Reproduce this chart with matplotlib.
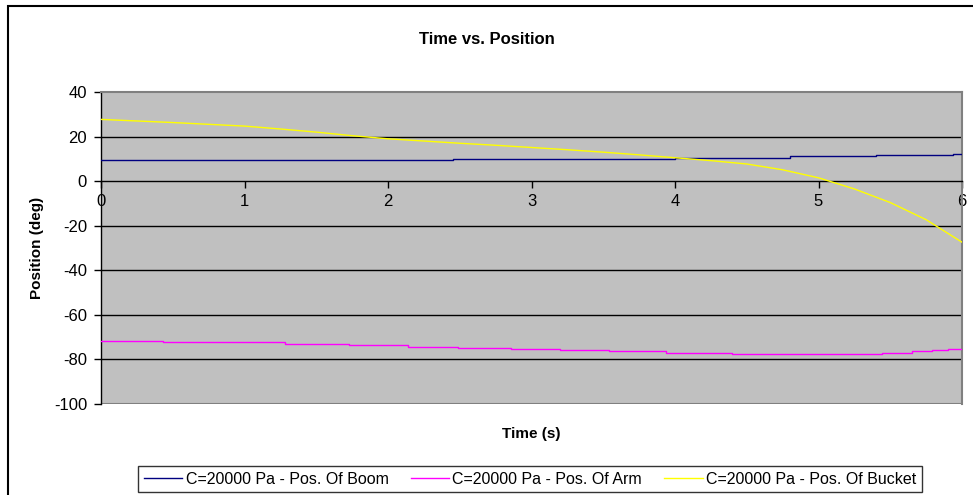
import matplotlib
matplotlib.use("Agg")
import matplotlib.pyplot as plt
from matplotlib.patches import Rectangle

plt.rcParams['font.family'] = ['Liberation Sans', 'DejaVu Sans']
plt.rcParams['axes.unicode_minus'] = False

# Boom position (deg): step changes over time (s)
boom_t = [0.0, 2.45, 4.0, 4.8, 5.4, 5.94, 6.0]
boom_v = [9.4, 9.8, 10.5, 11.2, 11.9, 12.4, 12.4]

# Arm position (deg)
arm_t = [0.0, 0.43, 1.28, 1.73, 2.14, 2.49, 2.86, 3.2, 3.54, 3.94, 4.4, 5.44, 5.65, 5.79, 5.9, 6.0]
arm_v = [-71.9, -72.3, -72.9, -73.6, -74.2, -74.8, -75.2, -75.9, -76.4, -77.0, -77.6, -77.0, -76.4, -75.7, -75.1, -75.1]

# Bucket position (deg)
bucket_t = [0.0, 0.25, 0.5, 0.75, 1.0, 1.25, 1.5, 1.75, 2.0, 2.25, 2.5, 2.75, 3.0,
            3.25, 3.5, 3.75, 4.0, 4.25, 4.5, 4.75, 5.0, 5.25, 5.5, 5.75, 6.0]
bucket_v = [27.7, 27.0, 26.3, 25.5, 24.7, 23.4, 22.0, 20.4, 19.0, 18.0, 17.0, 16.1, 15.1,
            14.1, 13.0, 11.8, 10.5, 9.2, 7.7, 5.1, 1.5, -3.5, -9.6, -17.3, -27.4]

labels = ["C=20000 Pa - Pos. Of Boom", "C=20000 Pa - Pos. Of Arm", "C=20000 Pa - Pos. Of Bucket"]
x_ticks = [0, 1, 2, 3, 4, 5, 6]
y_ticks = [-100, -80, -60, -40, -20, 0, 20, 40]

W, H = 973, 495
fig = plt.figure(figsize=(W / 100, H / 100), dpi=100)
fig.patch.set_facecolor('white')

# outer chart frame
fig.patches.append(Rectangle((8 / W, -0.2), 1.2, 1.2 - 6 / H, transform=fig.transFigure,
                             fill=False, edgecolor='black', linewidth=1.5))

ax = fig.add_axes([101 / W, 1 - 404 / H, (962 - 101) / W, (404 - 92) / H])
ax.set_facecolor('#C0C0C0')
ax.set_xlim(0, 6)
ax.set_ylim(-100, 40)

# horizontal gridlines
for y in y_ticks:
    if y in (-100, 40, 0):
        continue
    ax.axhline(y, color='black', linewidth=1.0, zorder=1)
ax.axhline(-100, color='#808080', linewidth=1.5, zorder=1)

ax.plot(boom_t, boom_v, color='#000080', linewidth=1.0, drawstyle='steps-post', label=labels[0], zorder=3)
ax.plot(arm_t, arm_v, color='#FF00FF', linewidth=1.0, drawstyle='steps-post', label=labels[1], zorder=3)
ax.plot(bucket_t, bucket_v, color='#FFFF00', linewidth=1.0, label=labels[2], zorder=3)

ax.spines['bottom'].set_position(('data', 0))
ax.spines['bottom'].set_color('black')
ax.spines['bottom'].set_linewidth(1.0)
ax.spines['left'].set_color('black')
ax.spines['left'].set_linewidth(1.0)
for s in ('top', 'right'):
    ax.spines[s].set_color('#808080')
    ax.spines[s].set_linewidth(1.5)

ax.set_xticks(x_ticks)
ax.set_yticks(y_ticks)
ax.tick_params(axis='both', direction='out', length=5, width=1.0, color='black',
               labelsize=12, labelcolor='black')
ax.tick_params(axis='x', pad=4)
ax.tick_params(axis='y', pad=5)

fig.text(0.5, 1 - 40 / H, "Time vs. Position", ha='center', va='center',
         fontsize=12, fontweight='bold')
fig.text(531 / W, 1 - 434 / H, "Time (s)", ha='center', va='center',
         fontsize=11, fontweight='bold')
fig.text(37 / W, 1 - 248 / H, "Position (deg)", ha='center', va='center',
         rotation=90, fontsize=11, fontweight='bold')

leg = fig.legend(loc='upper center', bbox_to_anchor=(530 / W, 1 - 466 / H), ncol=3,
                 fontsize=11.5, frameon=True, fancybox=False, edgecolor='black',
                 handlelength=2.4, handletextpad=0.2, columnspacing=1.4,
                 borderpad=0.35, borderaxespad=0)
leg.get_frame().set_linewidth(1.0)

fig.savefig("out.png", dpi=100)
